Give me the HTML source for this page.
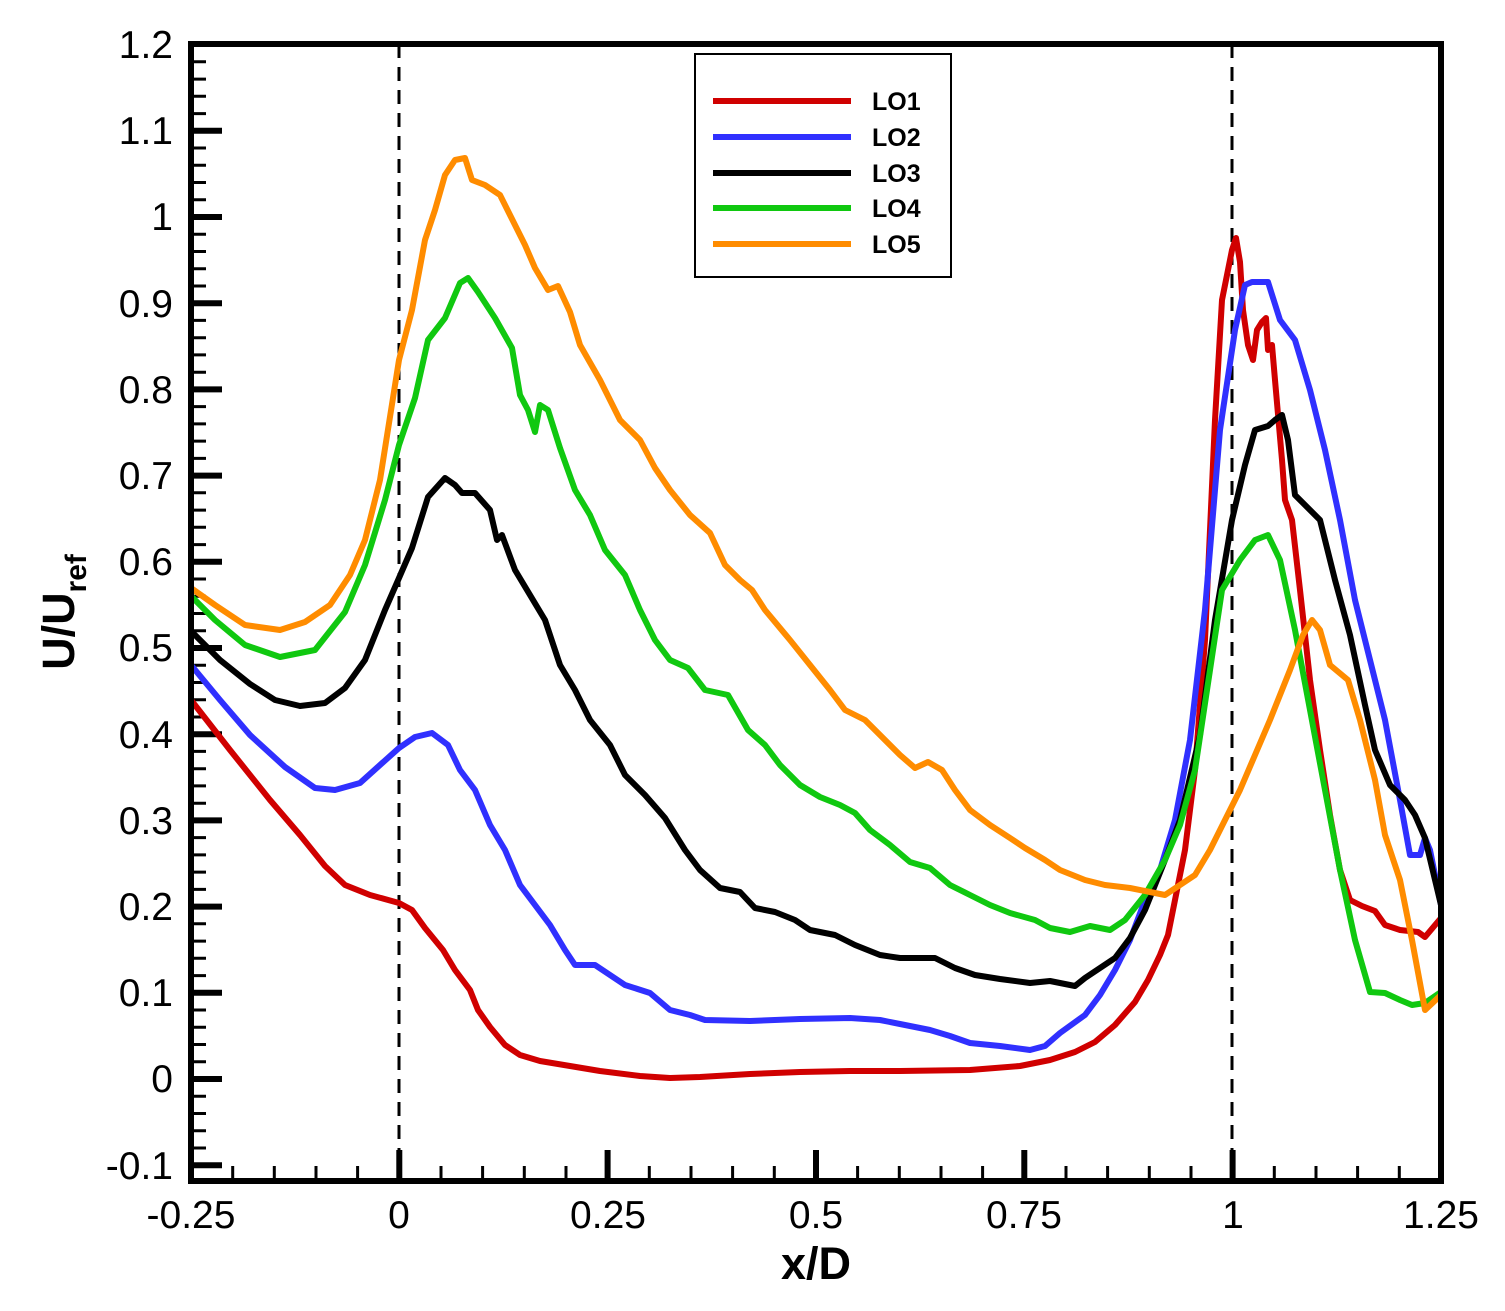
<!DOCTYPE html>
<html><head><style>body{margin:0;background:#fff}svg{display:block}</style></head><body>
<svg width="1505" height="1311" xmlns="http://www.w3.org/2000/svg" font-family="Liberation Sans, Arial, sans-serif">
<path fill="none" stroke="#000" stroke-width="3" d="M191 1148h15M191 1130.7h15M191 1113.5h15M191 1096.2h15M191 1061.8h15M191 1044.5h15M191 1027.3h15M191 1010h15M191 975.6h15M191 958.3h15M191 941.1h15M191 923.8h15M191 889.4h15M191 872.1h15M191 854.9h15M191 837.6h15M191 803.2h15M191 785.9h15M191 768.7h15M191 751.4h15M191 717h15M191 699.7h15M191 682.5h15M191 665.2h15M191 630.8h15M191 613.5h15M191 596.3h15M191 579h15M191 544.6h15M191 527.3h15M191 510.1h15M191 492.8h15M191 458.4h15M191 441.1h15M191 423.9h15M191 406.6h15M191 372.2h15M191 354.9h15M191 337.7h15M191 320.4h15M191 286h15M191 268.7h15M191 251.5h15M191 234.2h15M191 199.8h15M191 182.5h15M191 165.3h15M191 148h15M191 113.6h15M191 96.3h15M191 79.1h15M191 61.8h15
M232.7 1181v-15M274.3 1181v-15M316 1181v-15M357.6 1181v-15M441 1181v-15M482.6 1181v-15M524.3 1181v-15M566 1181v-15M649.3 1181v-15M691 1181v-15M732.6 1181v-15M774.3 1181v-15M857.6 1181v-15M899.3 1181v-15M941 1181v-15M982.6 1181v-15M1066 1181v-15M1107.6 1181v-15M1149.3 1181v-15M1191 1181v-15M1274.3 1181v-15M1316 1181v-15M1357.6 1181v-15M1399.3 1181v-15"/>
<path fill="none" stroke="#000" stroke-width="6" d="M191 1165.2h31M191 1079h31M191 992.8h31M191 906.6h31M191 820.4h31M191 734.2h31M191 648h31M191 561.8h31M191 475.6h31M191 389.4h31M191 303.2h31M191 217h31M191 130.8h31
M399.3 1181v-31M607.6 1181v-31M816 1181v-31M1024.3 1181v-31M1232.6 1181v-31"/>
<line x1="399" y1="44" x2="399" y2="1181" stroke="#000" stroke-width="3" stroke-dasharray="14,9"/>
<line x1="1232" y1="44" x2="1232" y2="1181" stroke="#000" stroke-width="3" stroke-dasharray="14,9"/>
<g fill="none" stroke-width="6" stroke-linejoin="round">
<polyline stroke="#d00000" points="191,700 230,750 270,800 300,835 325,866 345,885 370,895 399,903 412,910 425,928 443,950 455,970 470,990 478,1010 490,1027 505,1045 520,1055 540,1061 570,1066 600,1071 640,1076 670,1078 700,1077 750,1074 800,1072 850,1071 900,1071 970,1070 1020,1066 1050,1060 1075,1052 1095,1042 1115,1025 1135,1002 1148,980 1160,955 1168,935 1175,900 1185,850 1195,770 1205,640 1215,420 1222,300 1232,250 1236,238 1240,262 1243,310 1248,345 1253,360 1257,330 1262,322 1266,318 1268,350 1272,345 1275,380 1282,460 1285,500 1292,520 1300,590 1310,680 1320,750 1330,815 1340,870 1350,900 1362,906 1375,911 1385,925 1400,930 1418,932 1425,937 1441,918"/>
<polyline stroke="#3030ff" points="191,665 220,700 250,735 285,767 315,788 335,790 360,783 380,765 399,748 415,737 432,733 448,745 460,770 475,790 490,825 505,850 520,885 535,905 550,925 565,950 575,965 595,965 610,975 625,985 650,993 670,1010 690,1015 705,1020 750,1021 800,1019 850,1018 880,1020 900,1024 930,1030 950,1036 970,1043 1000,1046 1030,1050 1045,1046 1060,1033 1085,1015 1100,995 1115,970 1130,940 1145,900 1160,870 1175,820 1190,740 1205,610 1220,430 1235,330 1245,285 1252,282 1268,282 1280,320 1295,340 1310,390 1325,450 1340,520 1355,600 1370,660 1385,720 1400,800 1410,855 1420,855 1425,838 1430,850 1441,905"/>
<polyline stroke="#000" points="191,631 220,660 250,684 275,700 300,706 325,703 345,688 365,660 385,610 399,578 412,548 428,497 445,478 455,485 462,493 475,493 490,510 497,540 502,535 515,570 530,595 545,620 560,665 575,690 590,720 610,745 625,775 645,795 665,818 685,850 700,870 720,888 740,892 755,908 775,912 795,920 810,930 835,935 855,945 880,955 900,958 935,958 955,968 975,975 1000,979 1030,983 1050,981 1075,986 1085,978 1100,968 1115,958 1130,938 1145,910 1165,860 1180,820 1200,735 1215,620 1232,520 1245,465 1255,430 1268,426 1275,420 1282,415 1288,440 1295,495 1305,505 1320,520 1335,580 1350,635 1365,705 1375,750 1390,785 1405,800 1415,815 1425,838 1441,905"/>
<polyline stroke="#10c810" points="191,596 215,620 245,645 280,657 315,650 345,612 365,565 385,500 399,445 415,398 428,340 445,318 460,283 468,278 478,292 495,318 512,348 520,395 528,410 535,432 540,405 548,410 560,448 575,490 590,515 605,550 625,575 640,610 655,640 670,660 688,668 705,690 728,695 748,730 765,745 780,765 800,785 820,797 840,805 855,813 870,830 890,845 910,862 930,868 950,885 970,895 990,905 1010,913 1035,920 1050,928 1070,932 1090,926 1110,930 1125,920 1145,895 1165,860 1180,825 1195,770 1210,670 1222,590 1240,560 1255,540 1268,535 1280,560 1295,630 1310,710 1325,790 1340,870 1355,940 1370,992 1385,993 1400,1000 1412,1005 1425,1003 1441,992"/>
<polyline stroke="#ff8c00" points="191,588 215,605 245,625 280,630 305,622 330,605 350,575 365,540 380,480 399,360 412,310 425,240 435,210 445,175 455,160 465,158 472,180 485,185 500,195 515,225 525,245 535,268 548,290 558,286 570,312 580,345 600,380 620,420 640,440 655,468 670,490 690,515 710,533 725,565 740,580 752,590 765,610 790,640 810,665 830,690 845,710 865,720 880,735 900,755 915,768 928,762 942,770 955,790 970,810 990,825 1010,838 1025,848 1045,860 1060,870 1085,880 1105,885 1130,888 1150,892 1165,895 1180,885 1195,875 1210,850 1225,820 1240,790 1255,755 1270,720 1290,670 1303,635 1312,620 1320,630 1330,665 1348,680 1360,720 1375,780 1385,835 1400,880 1412,940 1425,1010 1441,995"/>
</g>
<rect x="191" y="44" width="1250" height="1137" fill="none" stroke="#000" stroke-width="6"/>
<rect x="695" y="54" width="256" height="223" fill="#fff" stroke="#000" stroke-width="2"/>
<g stroke-width="6">
<line x1="713" x2="851" y1="101" y2="101" stroke="#d00000"/>
<line x1="713" x2="851" y1="137" y2="137" stroke="#3030ff"/>
<line x1="713" x2="851" y1="173" y2="173" stroke="#000"/>
<line x1="713" x2="851" y1="208" y2="208" stroke="#10c810"/>
<line x1="713" x2="851" y1="244" y2="244" stroke="#ff8c00"/>
</g>
<g font-size="25" font-weight="bold">
<text x="872" y="110">LO1</text><text x="872" y="146">LO2</text><text x="872" y="182">LO3</text><text x="872" y="217">LO4</text><text x="872" y="253">LO5</text>
</g>
<g font-size="39" text-anchor="end">
<text x="173" y="58">1.2</text><text x="173" y="144">1.1</text><text x="173" y="230">1</text><text x="173" y="317">0.9</text><text x="173" y="403">0.8</text><text x="173" y="489">0.7</text><text x="173" y="575">0.6</text><text x="173" y="661">0.5</text><text x="173" y="748">0.4</text><text x="173" y="834">0.3</text><text x="173" y="920">0.2</text><text x="173" y="1006">0.1</text><text x="173" y="1092">0</text><text x="173" y="1179">-0.1</text>
</g>
<g font-size="39" text-anchor="middle">
<text x="191" y="1228">-0.25</text><text x="399" y="1228">0</text><text x="608" y="1228">0.25</text><text x="816" y="1228">0.5</text><text x="1024" y="1228">0.75</text><text x="1233" y="1228">1</text><text x="1441" y="1228">1.25</text>
</g>
<text x="816" y="1279" font-size="45" font-weight="bold" text-anchor="middle">x/D</text>
<text transform="translate(74,612) rotate(-90)" font-size="45" font-weight="bold" text-anchor="middle">U/U<tspan font-size="30" dy="12">ref</tspan></text>
</svg>
</body></html>
